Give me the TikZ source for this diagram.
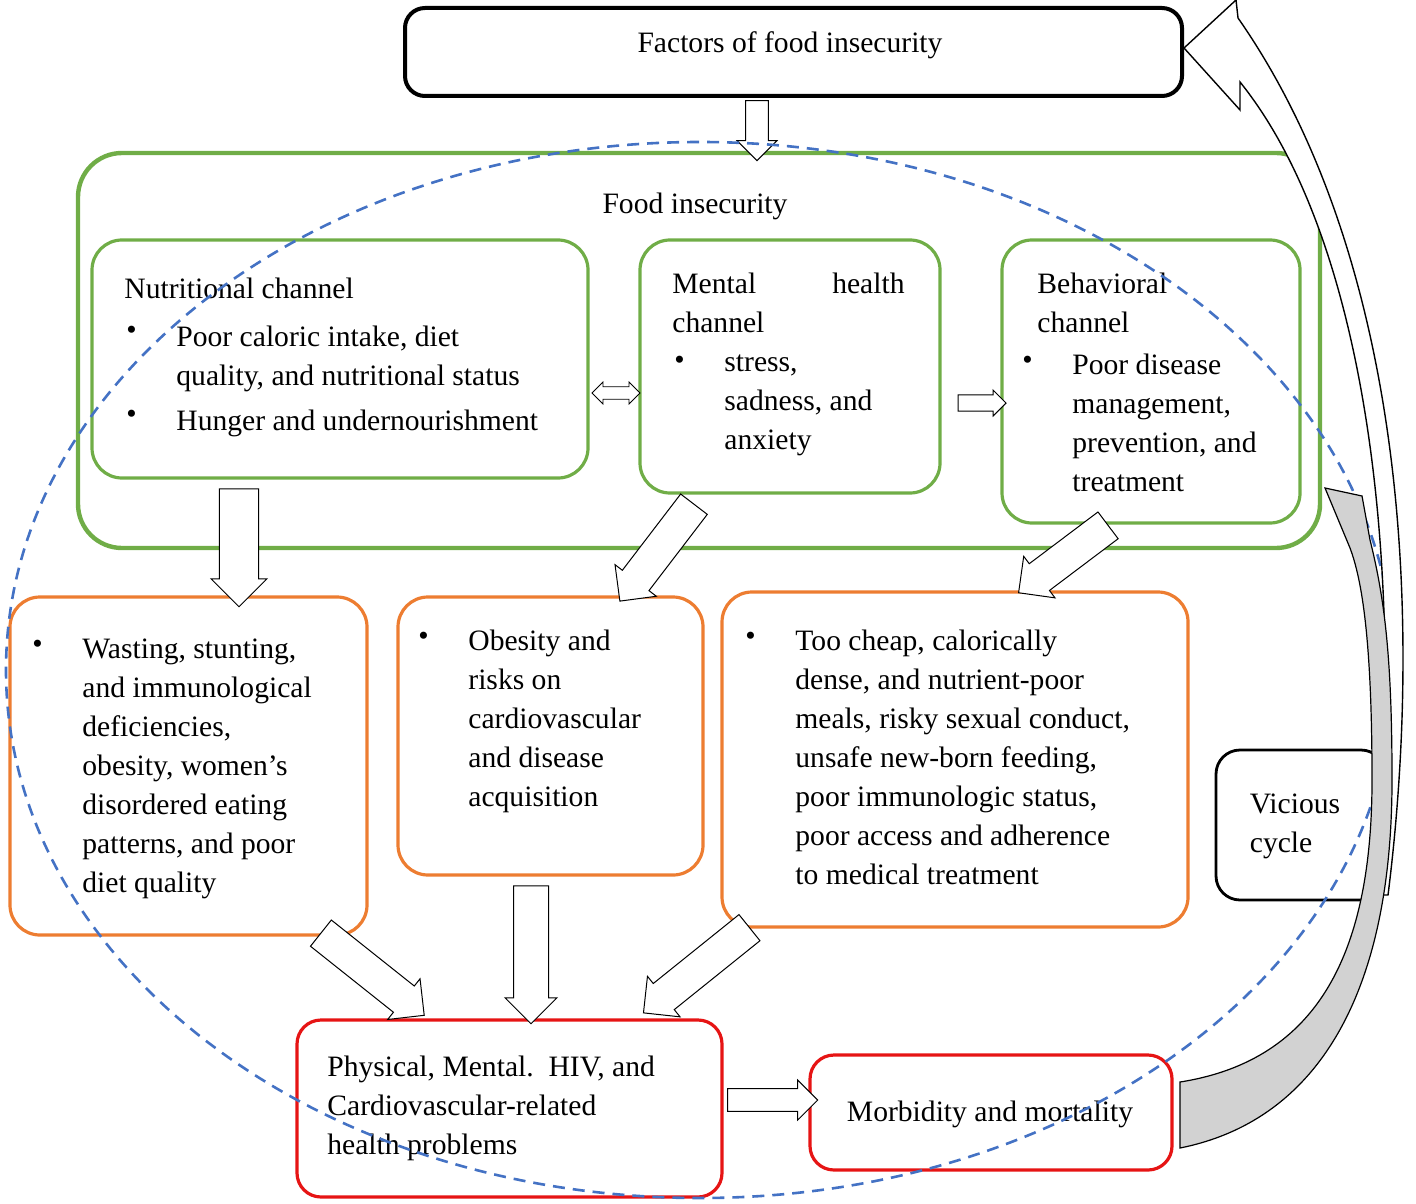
\documentclass[tikz,border=0pt]{standalone}
\usepackage{fontspec}
\setmainfont{Liberation Serif}
\usetikzlibrary{shapes.arrows}
\definecolor{gr}{RGB}{112,173,71}
\definecolor{og}{RGB}{237,125,49}
\definecolor{rd}{RGB}{230,20,20}
\definecolor{bl}{RGB}{68,114,196}
\begin{document}
\begin{tikzpicture}[x=0.5pt,y=-0.5pt,
  every node/.style={font=\fontsize{14.8}{19.5}\selectfont},
  gbox/.style={draw=gr,line width=1.6pt,rounded corners=15pt},
  obox/.style={draw=og,line width=1.6pt,rounded corners=15pt},
  rbox/.style={draw=rd,line width=1.6pt,rounded corners=12pt},
  txt/.style={anchor=north west,align=left,inner sep=0pt},
  bul/.style={anchor=north west,inner sep=0pt},
  harrow/.style={single arrow,draw,fill=white,line width=0.5pt,single arrow head extend=4pt,inner sep=5pt,minimum width=20pt}]
\useasboundingbox (0,0) rectangle (1416,1203);
% boxes
\draw[line width=2pt,rounded corners=10pt] (405,8) rectangle (1182,96);
\node (fac) at (790,45) {Factors of food insecurity};
\draw[draw=gr,line width=2.2pt,rounded corners=22pt] (78,153) rectangle (1320,548);
\node (fi) at (695,206) {Food insecurity};
\draw[gbox] (92,240) rectangle (588,478);
\draw[gbox] (640,240) rectangle (940,493);
\draw[gbox] (1002,240) rectangle (1300,523);
\draw[obox] (10,597) rectangle (367,935);
\draw[obox] (398,597) rectangle (703,875);
\draw[obox] (722,592) rectangle (1188,927);
\draw[rbox] (297,1020) rectangle (722,1197);
\draw[rbox] (810,1055) rectangle (1172,1170);
\draw[line width=1.4pt,rounded corners=12pt] (1216,750) rectangle (1385,900);
% texts
\node[txt] (n1) at (124,278) {Nutritional channel};
\node[bul] at (126,326) {\textbullet};
\node[txt] (n2) at (176,326) {Poor caloric intake, diet\\quality, and nutritional status};
\node[bul] at (126,410) {\textbullet};
\node[txt] (n3) at (176,410) {Hunger and undernourishment};
\node[txt] (m1) at (672,273) {Mental\hspace{38pt}health\\channel};
\node[bul] at (674,356) {\textbullet};
\node[txt] (m2) at (724,354) {stress,\\sadness, and\\anxiety};
\node[txt] (b1) at (1037,273) {Behavioral\\channel};
\node[bul] at (1022,356) {\textbullet};
\node[txt] (b2) at (1072,354) {Poor disease\\management,\\prevention, and\\treatment};
\node[bul] at (32,640) {\textbullet};
\node[txt] (o1) at (82,638) {Wasting, stunting,\\and immunological\\deficiencies,\\obesity, women's\\disordered eating\\patterns, and poor\\diet quality};
\node[bul] at (418,632) {\textbullet};
\node[txt] (o2) at (468,630) {Obesity and\\risks on\\cardiovascular\\and disease\\acquisition};
\node[bul] at (745,632) {\textbullet};
\node[txt] (o3) at (795,630) {Too cheap, calorically\\dense, and nutrient-poor\\meals, risky sexual conduct,\\unsafe new-born feeding,\\poor immunologic status,\\poor access and adherence\\to medical treatment};
\node[txt] (r1) at (327,1056) {Physical, Mental.\ \ HIV, and\\Cardiovascular-related\\health problems};
\node (r2) at (990,1114) {Morbidity and mortality};
\node[align=left] (vc) at (1295,826) {Vicious\\cycle};
% block arrows
\node[harrow,minimum height=30pt,rotate=-90] (a1) at (757,125) {};
\node[harrow,inner sep=9pt,minimum width=28pt,minimum height=59pt,rotate=-90] (a2) at (239,538) {};
\node[harrow,inner sep=7pt,minimum width=26pt,minimum height=61pt,rotate=-127.4] (a3) at (662,546) {};
\node[harrow,inner sep=7pt,minimum width=26pt,minimum height=56pt,rotate=217] (a4) at (1070,554) {};
\node[harrow,inner sep=7pt,minimum width=26pt,minimum height=66pt,rotate=-38.5] (a5) at (366,969) {};
\node[harrow,inner sep=8pt,minimum width=26pt,minimum height=69pt,rotate=-90] (a6) at (531,946) {};
\node[harrow,inner sep=7pt,minimum width=26pt,minimum height=68pt,rotate=218.8] (a7) at (703,965) {};
\node[harrow,inner sep=5pt,minimum width=20pt,minimum height=45pt] (a8) at (767,1100) {};
\node[double arrow,draw,fill=white,inner sep=2.5pt,minimum width=11pt,minimum height=24pt,double arrow head extend=2pt] (a9) at (616,393) {};
\node[harrow,inner sep=3pt,minimum width=13pt,minimum height=24pt,single arrow head extend=2pt] (a10) at (978,403) {};
% dashed ellipse
\draw[bl,dashed,line width=1.3pt,dash pattern=on 6pt off 4pt] (700,670) ellipse [x radius=694,y radius=528];
% outer curved arrow to factors
\draw[fill=white,line width=0.7pt] (1388,895) .. controls (1425,600) and (1400,250) .. (1238,18)
  -- (1236,0) -- (1184,48) -- (1240,110) -- (1240,82)
  .. controls (1375,250) and (1405,600) .. (1374,895) -- cycle;
% gray curved arrow to behavioural
\draw[fill=gray!35,line width=0.6pt] (1180,1082) .. controls (1320,1060) and (1372,950) .. (1372,780)
  .. controls (1372,640) and (1362,580) .. (1350,548) -- (1325,488) -- (1362,496)
  -- (1370,540) .. controls (1385,600) and (1392,660) .. (1392,780)
  .. controls (1392,990) and (1320,1120) .. (1180,1148) -- cycle;
\end{tikzpicture}
\end{document}
